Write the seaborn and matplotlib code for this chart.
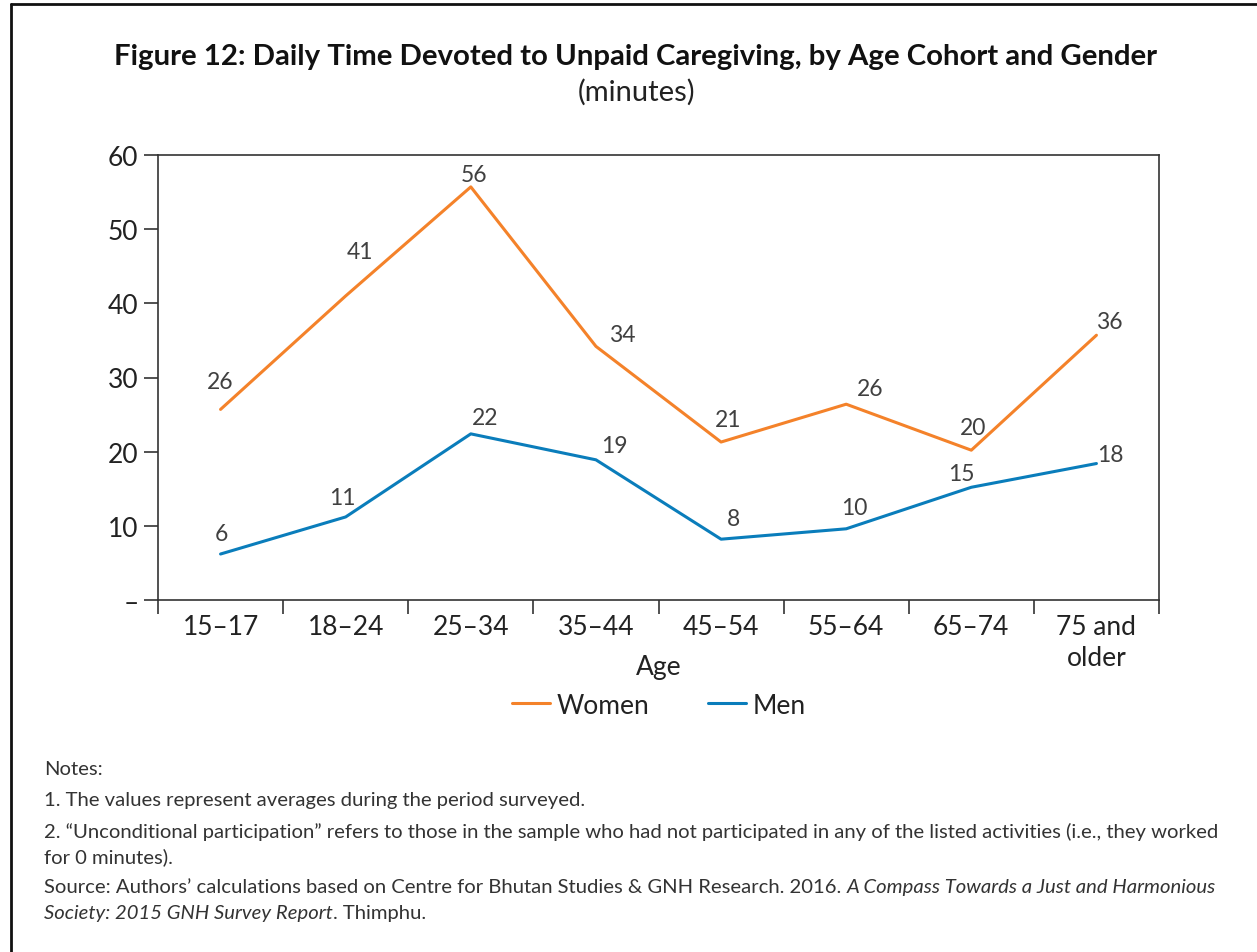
import numpy as np
import pandas as pd
import seaborn as sns
import matplotlib.pyplot as plt
from matplotlib.lines import Line2D
from matplotlib.ticker import FixedLocator

ages = ["15–17", "18–24", "25–34", "35–44", "45–54", "55–64", "65–74", "75 and\nolder"]
women = [25.7, 41.0, 55.7, 34.2, 21.3, 26.4, 20.2, 35.7]
men = [6.2, 11.2, 22.4, 18.9, 8.2, 9.6, 15.2, 18.4]
yticks = [0, 10, 20, 30, 40, 50, 60]
ytick_labels = ["–", "10", "20", "30", "40", "50", "60"]

# label offsets in pixels (dx, dy) -- styling only
women_off = [(0, 28), (14, 44), (3, 12), (26, 12), (7, 23), (24, 16), (2, 23), (13, 14)]
men_off = [(1, 21), (-3, 19), (14, 16), (18, 14), (12, 21), (8, 21), (-10, 14), (14, 9)]

ORANGE = "#F4822A"
BLUE = "#0A7DBB"

sns.set_theme(style="white")
plt.rcParams['font.family'] = ['Lato', 'DejaVu Sans']

df = pd.DataFrame({
    "Age": ages * 2,
    "Minutes": women + men,
    "Gender": ["Women"] * len(ages) + ["Men"] * len(ages),
})

fig = plt.figure(figsize=(12.57, 9.53), dpi=100)
ax = fig.add_axes([158 / 1257, 1 - 601 / 953, (1159 - 158) / 1257, (601 - 156) / 953])

sns.lineplot(data=df, x="Age", y="Minutes", hue="Gender", palette={"Women": ORANGE, "Men": BLUE},
             linewidth=2.2, ax=ax, legend=False, sort=False)

TICK_FS = 19
ax.set_xlim(-0.5, len(ages) - 0.5)
ax.set_ylim(0, 60)
ax.set_yticks(yticks)
ax.set_yticklabels(ytick_labels, fontsize=TICK_FS, color="#222222")
ax.set_xticks(range(len(ages)))
ax.set_xticklabels(ages, fontsize=TICK_FS, color="#222222", linespacing=1.3)
ax.xaxis.set_minor_locator(FixedLocator(np.arange(-0.5, len(ages), 1.0)))
ax.tick_params(axis="x", which="major", length=0, pad=10)
ax.tick_params(axis="x", which="minor", length=10, width=1.2, color="#333333", bottom=True)
ax.tick_params(axis="y", which="major", length=10, width=1.2, color="#333333", left=True, pad=4)
for s in ax.spines.values():
    s.set_visible(True)
    s.set_color("#333333")
    s.set_linewidth(1.2)
ax.set_xlabel("")
ax.set_ylabel("")
ax.grid(False)
fig.text(659 / 1257, 1 - 668 / 953, "Age", ha="center", va="center", fontsize=TICK_FS, color="#222222")

# data labels
for i in range(len(ages)):
    ax.annotate(f"{round(women[i])}", xy=(i, women[i]), xytext=(women_off[i][0] * 0.72, women_off[i][1] * 0.72),
                textcoords="offset points", ha="center", va="center", fontsize=16.5, color="#404040")
    ax.annotate(f"{round(men[i])}", xy=(i, men[i]), xytext=(men_off[i][0] * 0.72, men_off[i][1] * 0.72),
                textcoords="offset points", ha="center", va="center", fontsize=16.5, color="#404040")

# legend
handles = [Line2D([0], [0], color=ORANGE, lw=2.2), Line2D([0], [0], color=BLUE, lw=2.2)]
fig.legend(handles, ["Women", "Men"], loc="center", bbox_to_anchor=(659 / 1257, 1 - 706 / 953),
           ncol=2, frameon=False, fontsize=TICK_FS, handlelength=1.45, columnspacing=2.2, handletextpad=0.25,
           labelcolor="#222222")

# titles
fig.text(636 / 1257, 1 - 57 / 953, "Figure 12: Daily Time Devoted to Unpaid Caregiving, by Age Cohort and Gender",
         ha="center", va="center", fontsize=21.2, fontweight="bold", color="#111111")
fig.text(637 / 1257, 1 - 92 / 953, "(minutes)", ha="center", va="center", fontsize=21, color="#222222")

# notes
nx = 44 / 1257
ns = 14.6
nc = "#333333"
fig.text(nx, 1 - 770 / 953, "Notes:", ha="left", va="center", fontsize=ns, color=nc)
fig.text(nx, 1 - 801 / 953, "1. The values represent averages during the period surveyed.", ha="left", va="center", fontsize=ns, color=nc)
fig.text(nx, 1 - 832 / 953, "2. \u201cUnconditional participation\u201d refers to those in the sample who had not participated in any of the listed activities (i.e., they worked",
         ha="left", va="center", fontsize=ns, color=nc)
fig.text(nx, 1 - 857 / 953, "for 0 minutes).", ha="left", va="center", fontsize=ns, color=nc)
t1 = fig.text(nx, 1 - 888 / 953, "Source: Authors\u2019 calculations based on Centre for Bhutan Studies & GNH Research. 2016. ",
              ha="left", va="center", fontsize=ns, color=nc)
ax.annotate("A Compass Towards a Just and Harmonious", xy=(1, 0.5), xycoords=t1, ha="left", va="center",
            fontsize=ns, color=nc, style="italic", annotation_clip=False)
t2 = fig.text(nx, 1 - 914 / 953, "Society: 2015 GNH Survey Report", ha="left", va="center", fontsize=ns,
              color=nc, style="italic")
ax.annotate(". Thimphu.", xy=(1, 0.5), xycoords=t2, ha="left", va="center", fontsize=ns, color=nc,
            annotation_clip=False)

# frame
fig.add_artist(Line2D([11 / 1257, 1.0], [1 - 5 / 953, 1 - 5 / 953], color="#111111", lw=2.0, transform=fig.transFigure))
fig.add_artist(Line2D([11 / 1257, 11 / 1257], [1 - 5 / 953, 0.0], color="#111111", lw=2.0, transform=fig.transFigure))

fig.savefig("out.png", dpi=100)
